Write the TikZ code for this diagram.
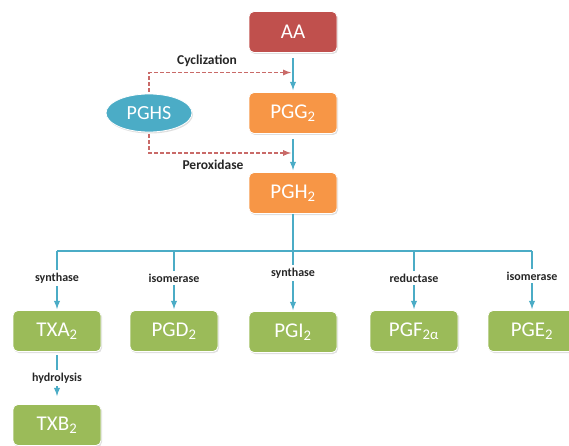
\documentclass[tikz,border=0pt]{standalone}
\usepackage{fontspec}
\setmainfont{Carlito}
\usetikzlibrary{arrows,calc,shapes.geometric,shadows}

\definecolor{aaRed}{HTML}{C0504D}
\definecolor{pgOrange}{HTML}{F79646}
\definecolor{pgGreen}{HTML}{9BBB59}
\definecolor{pgBlue}{HTML}{4BACC6}
\definecolor{labelGray}{HTML}{262626}

\begin{document}
\begin{tikzpicture}[>=latex, x=1pt, y=-1pt]
  \tikzstyle{box} = [rectangle, rounded corners=5pt, draw=white, thick, minimum width=88pt, minimum height=41pt, text=white, font={\fontsize{21}{23}\selectfont}, drop shadow={opacity=0.25, shadow xshift=1pt, shadow yshift=-1.5pt}]
  \tikzstyle{redBox} = [box, fill=aaRed]
  \tikzstyle{orangeBox} = [box, fill=pgOrange]
  \tikzstyle{greenBox} = [box, fill=pgGreen]
  \tikzstyle{enzyme} = [ellipse, draw=white, thick, fill=pgBlue, text=white, minimum width=86pt, minimum height=38pt, font={\fontsize{20}{22}\selectfont}, drop shadow={opacity=0.25, shadow xshift=1pt, shadow yshift=-1.5pt}]

  \tikzstyle{flow} = [pgBlue, line width=1.8pt];
  \tikzstyle{flowArrow} = [flow, ->];
  \tikzstyle{dashArrow} = [aaRed!85, line width=1.7pt, dash pattern=on 4pt off 2pt, ->];
  \tikzstyle{stepLabel} = [font={\fontsize{12}{14}\selectfont\bfseries}, text=labelGray, inner sep=3pt];
  \tikzstyle{sideLabel} = [font={\fontsize{13.5}{15}\selectfont\bfseries}, text=labelGray];

  \useasboundingbox (0,0) rectangle (569,446);

  % main chain
  \node[redBox]    (AA)   at (293,32)  {AA};
  \node[orangeBox] (PGG)  at (293,113) {PGG\textsubscript{2}};
  \node[orangeBox] (PGH)  at (293,193) {PGH\textsubscript{2}};
  \node[enzyme]    (PGHS) at (149,113) {PGHS};

  % products
  \node[greenBox] (TXA) at (57,331)  {TXA\textsubscript{2}};
  \node[greenBox] (PGD) at (174,331) {PGD\textsubscript{2}};
  \node[greenBox] (PGI) at (293,332) {PGI\textsubscript{2}};
  \node[greenBox] (PGF) at (414,331) {PGF\textsubscript{2α}};
  \node[greenBox] (PGE) at (532,331) {PGE\textsubscript{2}};
  \node[greenBox] (TXB) at (57,425)  {TXB\textsubscript{2}};

  % enzyme labels
  \node[stepLabel] (sTXA) at (57,278)  {synthase};
  \node[stepLabel] (sPGD) at (174,278) {isomerase};
  \node[stepLabel] (sPGI) at (293,273) {synthase};
  \node[stepLabel] (sPGF) at (414,278) {reductase};
  \node[stepLabel] (sPGE) at (532,276) {isomerase};
  \node[stepLabel] (sTXB) at (57,378)  {hydrolysis};
  \node[sideLabel] (cyc)   at (207,61)  {Cyclization};
  \node[sideLabel] (perox) at (213,165) {Peroxidase};

  \coordinate (cycIn)   at ($(AA.south)!0.5!(PGG.north)$);
  \coordinate (peroxIn) at ($(PGG.south)!0.5!(PGH.north)$);
  \coordinate (busL) at (57,251);
  \coordinate (busR) at (532,251);

  \draw[flowArrow, shorten <=5pt, shorten >=2pt] (AA.south) -- (PGG.north);
  \draw[flowArrow, shorten <=5pt, shorten >=2pt] (PGG.south) -- (PGH.north);
  \draw[dashArrow, shorten <=2pt, shorten >=2pt] (PGHS.north) |- (cycIn);
  \draw[dashArrow, shorten <=2pt, shorten >=2pt] (PGHS.south) |- (peroxIn);

  % branches
  \draw[flow] (PGH.south) -- (sPGI.north);
  \draw[flow] (busL) -- (busR);
  \draw[flow] (busL) -- (sTXA.north);
  \draw[flow] (sPGD.north |- busL) -- (sPGD.north);
  \draw[flow] (sPGF.north |- busL) -- (sPGF.north);
  \draw[flow] (busR) -- (sPGE.north);
  \draw[flowArrow, shorten >=1pt] (sTXA.south) -- (TXA.north);
  \draw[flowArrow, shorten >=1pt] (sPGD.south) -- (PGD.north);
  \draw[flowArrow, shorten >=1pt] (sPGI.south) -- (PGI.north);
  \draw[flowArrow, shorten >=1pt] (sPGF.south) -- (PGF.north);
  \draw[flowArrow, shorten >=1pt] (sPGE.south) -- (PGE.north);
  \draw[flow, shorten <=3pt] (TXA.south) -- (sTXB.north);
  \draw[flowArrow, shorten >=8pt] (sTXB.south) -- (TXB.north);
\end{tikzpicture}
\end{document}
